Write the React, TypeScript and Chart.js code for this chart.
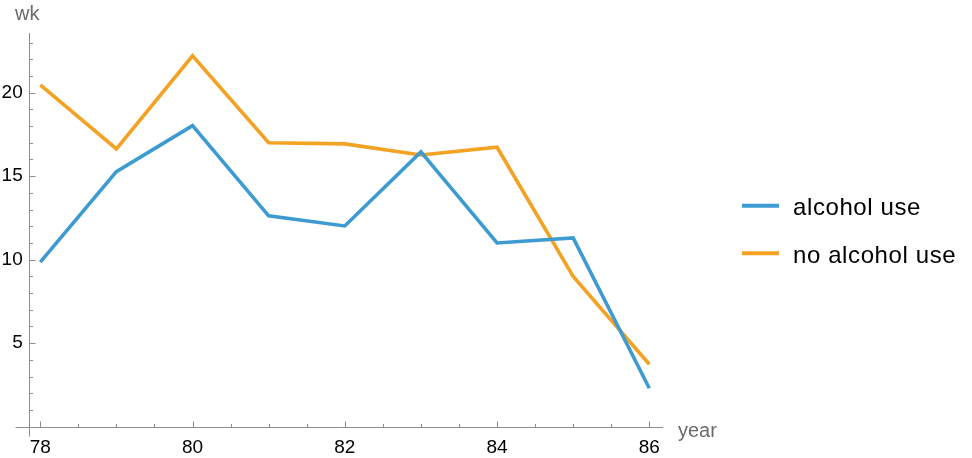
import React, { useEffect, useRef } from "react";
import { Chart, registerables } from "chart.js";

Chart.register(...registerables);

const years = [78, 79, 80, 81, 82, 83, 84, 85, 86];
const alcoholUse = [9.85, 15.27, 18.02, 12.62, 12.02, 16.45, 11.0, 11.3, 2.3];
const noAlcoholUse = [20.46, 16.63, 22.2, 17.0, 16.93, 16.27, 16.73, 9.0, 3.74];
const xTicks = [78, 80, 82, 84, 86];
const yTicks = [5, 10, 15, 20];
const seriesLabels = ["alcohol use", "no alcohol use"];
const seriesColors = ["#3d9bd2", "#f3a224"];
const xTitle = "year";
const yTitle = "wk";

const FONT = "'Liberation Sans', Arial, Helvetica, sans-serif";
const AXIS_COLOR = "#8c8c8c";
const TITLE_COLOR = "#6b6b6b";

const mmaPlugin = {
  id: "mmaAxes",
  afterDraw(chart: any) {
    const { ctx, scales } = chart;
    const x = scales.x;
    const y = scales.y;
    const ax = Math.round(x.left) + 0.5; // y-axis position
    const ay = Math.round(y.bottom) + 0.5; // x-axis position
    ctx.save();
    ctx.strokeStyle = AXIS_COLOR;
    ctx.lineWidth = 1;
    // axis lines
    ctx.beginPath();
    ctx.moveTo(ax - 14, ay);
    ctx.lineTo(Math.round(x.right), ay);
    ctx.moveTo(ax, Math.round(y.top));
    ctx.lineTo(ax, ay + 9);
    ctx.stroke();
    // x ticks (major every 2, minor every 0.5)
    ctx.beginPath();
    for (let v = 78; v <= 86.001; v += 0.5) {
      const px = Math.round(x.getPixelForValue(v)) + 0.5;
      const major = xTicks.some((t) => Math.abs(t - v) < 1e-6);
      ctx.moveTo(px, ay);
      ctx.lineTo(px, ay - (major ? 6 : 3.5));
    }
    // y ticks (major every 5, minor every 1)
    for (let v = 1; v <= 23; v += 1) {
      const py = Math.round(y.getPixelForValue(v)) + 0.5;
      const major = yTicks.includes(v);
      ctx.moveTo(ax, py);
      ctx.lineTo(ax + (major ? 6 : 3.5), py);
    }
    ctx.stroke();

    // axis titles
    ctx.fillStyle = TITLE_COLOR;
    ctx.font = `20px ${FONT}`;
    ctx.textAlign = "left";
    ctx.textBaseline = "alphabetic";
    ctx.fillText(yTitle, 15, 19.5);
    ctx.fillText(xTitle, 678, 437);

    // legend
    chart.data.datasets.forEach((ds: any, i: number) => {
      const ly = 205.7 + i * 47.6;
      ctx.strokeStyle = ds.borderColor;
      ctx.lineWidth = 4;
      ctx.beginPath();
      ctx.moveTo(742, ly);
      ctx.lineTo(779, ly);
      ctx.stroke();
      ctx.fillStyle = "#000";
      ctx.font = `24px ${FONT}`;
      try {
        (ctx as any).letterSpacing = "0.6px";
      } catch (e) {}
      ctx.textBaseline = "alphabetic";
      ctx.fillText(ds.label, 793, ly + 9.3);
      try {
        (ctx as any).letterSpacing = "0px";
      } catch (e) {}
    });
    ctx.restore();
  },
};

export default function App() {
  const ref = useRef<HTMLCanvasElement | null>(null);
  useEffect(() => {
    if (!ref.current) return;
    const chart = new Chart(ref.current, {
      type: "line",
      data: {
        datasets: [
          {
            label: seriesLabels[0],
            data: years.map((yr, i) => ({ x: yr, y: alcoholUse[i] })),
            borderColor: seriesColors[0],
            backgroundColor: seriesColors[0],
            borderWidth: 3.6,
            pointRadius: 0,
            tension: 0,
            borderJoinStyle: "miter",
          },
          {
            label: seriesLabels[1],
            data: years.map((yr, i) => ({ x: yr, y: noAlcoholUse[i] })),
            borderColor: seriesColors[1],
            backgroundColor: seriesColors[1],
            borderWidth: 3.6,
            pointRadius: 0,
            tension: 0,
            borderJoinStyle: "miter",
          },
        ],
      },
      options: {
        animation: false,
        responsive: false,
        devicePixelRatio: 1,
        layout: { padding: { left: 0, top: 33, right: 309.3, bottom: 0 } },
        plugins: {
          legend: { display: false },
          tooltip: { enabled: false },
        },
        scales: {
          x: {
            type: "linear",
            min: 77.848,
            max: 86.176,
            grid: { display: false, drawTicks: false },
            border: { display: false },
            afterFit: (s: any) => {
              s.height = 31.3;
            },
            afterBuildTicks: (s: any) => {
              s.ticks = xTicks.map((v) => ({ value: v }));
            },
            ticks: {
              padding: 10,
              color: "#000",
              font: { family: FONT, size: 19 },
              maxRotation: 0,
              autoSkip: false,
              callback: (v: any) => String(v),
            },
          },
          y: {
            type: "linear",
            min: 0,
            max: 23.57,
            grid: { display: false, drawTicks: false },
            border: { display: false },
            afterFit: (s: any) => {
              s.width = 28.7;
            },
            afterBuildTicks: (s: any) => {
              s.ticks = yTicks.map((v) => ({ value: v }));
            },
            ticks: {
              padding: 6,
              color: "#000",
              font: { family: FONT, size: 19 },
              autoSkip: false,
              callback: (v: any) => String(v),
            },
          },
        },
      },
      plugins: [mmaPlugin],
    } as any);
    return () => chart.destroy();
  }, []);
  return (
    <div style={{ position: "absolute", left: 0, top: 0, width: 972, height: 458, background: "#fff" }}>
      <canvas ref={ref} width={972} height={458} style={{ display: "block" }} />
    </div>
  );
}
